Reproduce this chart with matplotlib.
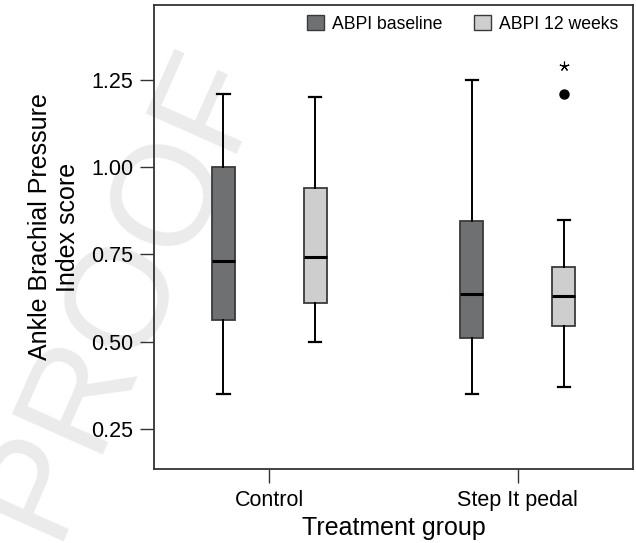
import numpy as np
import matplotlib
matplotlib.use("Agg")
import matplotlib.pyplot as plt
from matplotlib.patches import Patch

plt.rcParams['font.family'] = ['Liberation Sans', 'DejaVu Sans']

# data
groups = ['Control', 'Step It pedal']
series = ['ABPI baseline', 'ABPI 12 weeks']
colors = ['#6f7072', '#cdcecd']

base_lo = [0.351, 0.351]
base_q1 = [0.562, 0.511]
base_med = [0.730, 0.636]
base_q3 = [1.000, 0.845]
base_hi = [1.210, 1.251]
base_out = [[], []]

wk12_lo = [0.500, 0.371]
wk12_q1 = [0.612, 0.546]
wk12_med = [0.744, 0.631]
wk12_q3 = [0.940, 0.713]
wk12_hi = [1.200, 0.849]
wk12_out = [[], [1.210]]

extreme_group = 1      # star drawn above the Step It 12 weeks box
extreme_value = 1.29

yticks = [0.25, 0.50, 0.75, 1.00, 1.25]

fig = plt.figure(figsize=(6.36, 5.43), dpi=100)
ax = fig.add_axes([154/636, 1-469/543, (633.3-154)/636, (469-5)/543])
ax.set_facecolor('none')

# faint watermark behind the plot
fig.text(122/636, 1-292/543, 'PROOF', rotation=66, fontsize=104,
         color='#ebebeb', ha='center', va='center', zorder=-1)

def make_stats(lo, q1, med, q3, hi, out):
    return [dict(whislo=lo[i], q1=q1[i], med=med[i], q3=q3[i], whishi=hi[i],
                 fliers=out[i]) for i in range(len(lo))]

x = np.arange(len(groups))
off = 0.185
width = 0.0926
allstats = [make_stats(base_lo, base_q1, base_med, base_q3, base_hi, base_out),
            make_stats(wk12_lo, wk12_q1, wk12_med, wk12_q3, wk12_hi, wk12_out)]

for k, stats in enumerate(allstats):
    pos = x + (-off if k == 0 else off)
    ax.bxp(stats, positions=pos, widths=width, patch_artist=True,
           capwidths=0.05, manage_ticks=False,
           boxprops=dict(facecolor=colors[k], edgecolor='#3a3a3a', linewidth=1.3),
           medianprops=dict(color='black', linewidth=2.2),
           whiskerprops=dict(color='black', linewidth=1.4),
           capprops=dict(color='black', linewidth=1.6),
           flierprops=dict(marker='o', markerfacecolor='black',
                           markeredgecolor='black', markersize=6.5))

ax.plot([x[extreme_group] + off], [extreme_value], linestyle='none',
        marker=(5, 2), markersize=7, color='black', markeredgewidth=0.8)

ax.set_xlim(-0.464, 1.465)
ax.set_ylim(0.135, 1.465)
ax.set_xticks(x)
ax.set_xticklabels(groups)
ax.set_yticks(yticks)
ax.set_yticklabels(['%.2f' % v for v in yticks])
ax.tick_params(axis='both', direction='out', length=10, width=1,
               color='#333333', labelsize=15.5, pad=5)
for s in ax.spines.values():
    s.set_color('#333333')
    s.set_linewidth(1.3)

ax.set_xlabel('Treatment group', fontsize=18, labelpad=4)
fig.text(54/636, 1-227/543, 'Ankle Brachial Pressure\nIndex score',
         rotation=90, fontsize=18, ha='center', va='center',
         linespacing=1.2)

handles = [Patch(facecolor=colors[i], edgecolor='#3a3a3a', linewidth=1)
           for i in range(2)]
ax.legend(handles, series, ncol=2, frameon=False, fontsize=12.7,
          loc='upper right', bbox_to_anchor=(618/636, 1-15/543),
          bbox_transform=fig.transFigure, borderaxespad=0, borderpad=0,
          handlelength=0.97, handleheight=0.97, handletextpad=0.45,
          columnspacing=1.76)

fig.savefig('out.png', dpi=100)
